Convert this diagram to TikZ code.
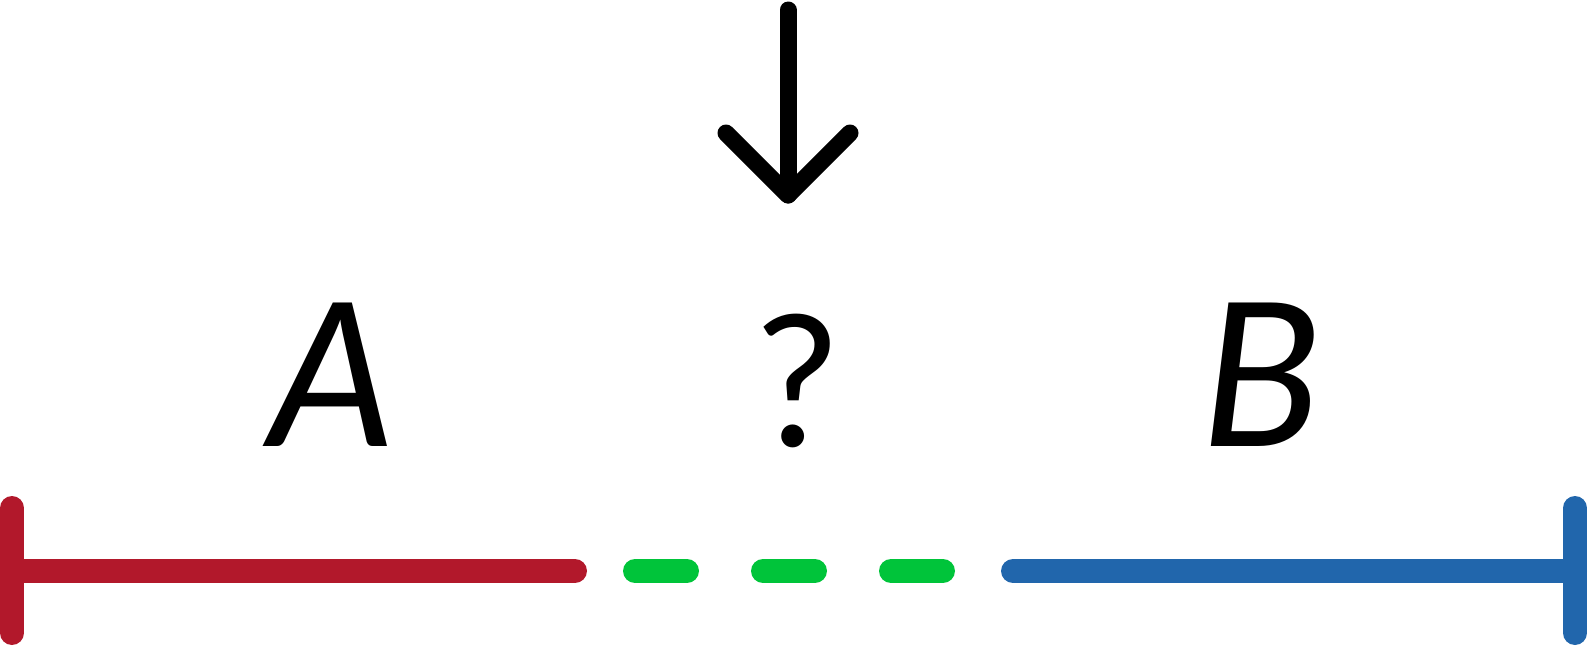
\documentclass[tikz,border=0pt]{standalone}
\usepackage{fontspec}
\setmainfont{Lato}
\usepackage{tikz}
\usetikzlibrary{calc}
\definecolor{segred}{RGB}{178,24,43}
\definecolor{seggreen}{RGB}{0,196,58}
\definecolor{segblue}{RGB}{33,102,172}
\begin{document}
\begin{tikzpicture}[
  x=0.1mm, y=-0.1mm,
  bar/.style={line width=2.4mm, line cap=round},
  gap/.style={bar, seggreen, dash pattern=on 5.2mm off 7.6mm},
  pointer/.style={line width=1.7mm, line cap=round, line join=round},
  letter/.style={font=\fontsize{57}{60}\selectfont, anchor=base, inner sep=0pt}
]
\useasboundingbox (0,0) rectangle (1588,646);

% Segment end points
\coordinate (a1) at (12,508);
\coordinate (a2) at (12,633);
\coordinate (aL) at (12,571);
\coordinate (aR) at (575,571);
\coordinate (gL) at (635,571);
\coordinate (gR) at (943,571);
\coordinate (bL) at (1013,571);
\coordinate (bR) at (1575,571);
\coordinate (b1) at (1575,508);
\coordinate (b2) at (1575,633);

% Red part
\draw[bar, segred] (a1) -- (a2);
\draw[bar, segred] (aL) -- (aR);

% Green gap
\draw[gap] (gL) -- (gR);

% Blue part
\draw[bar, segblue] (bL) -- (bR);
\draw[bar, segblue] (b1) -- (b2);

% Labels
\node[letter] (la) at (333,446) {\itshape A};
\node[letter, font=\fontsize{52}{55}\selectfont] (lq) at (797,446) {?};
\node[letter] (lb) at (1262,446) {\itshape B};

% Pointer
\coordinate (top) at (788,10);
\coordinate (tip) at (788,195);
\draw[pointer] (top) -- (tip);
\draw[pointer] ($(tip)+(-62,-62)$) -- (tip) -- ($(tip)+(62,-62)$);

\end{tikzpicture}
\end{document}
